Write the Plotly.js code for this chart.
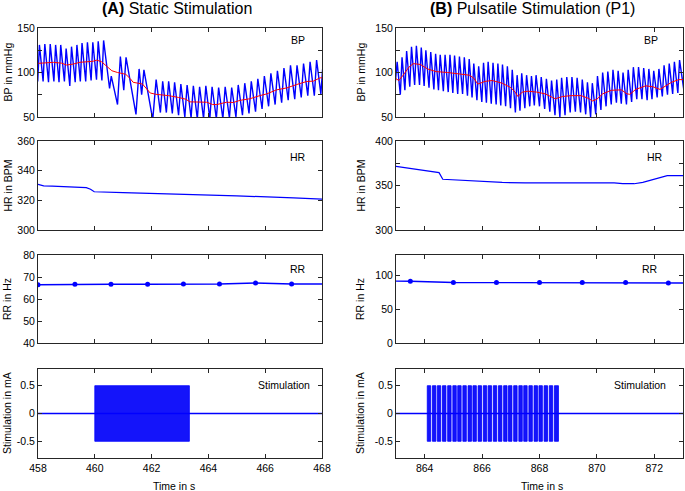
<!DOCTYPE html>
<html><head><meta charset="utf-8">
<script src="https://cdn.plot.ly/plotly-3.0.1.min.js"></script>
<style>html,body{margin:0;padding:0;background:#fff}#chart{width:685px;height:491px}</style>
</head><body><div id="chart"></div>
<script>
// ---------- (A) Static stimulation ----------
const bpA_t = [457.99,458.05, 458.18,458.24, 458.37,458.43, 458.56,458.62, 458.74,458.80, 458.93,458.99, 459.12,459.18, 459.31,459.37, 459.49,459.55, 459.68,459.74, 459.87,459.93, 460.06,460.12, 460.25,460.31, 460.52,460.58, 460.80,460.90, 461.02,461.10, 461.45,461.56, 461.65,461.73, 462.04,462.16, 462.31,462.39, 462.52,462.60, 462.73,462.81, 462.95,463.03, 463.17,463.25, 463.39,463.47, 463.61,463.69, 463.83,463.91, 464.05,464.13, 464.28,464.36, 464.51,464.59, 464.74,464.82, 464.97,465.05, 465.20,465.28, 465.43,465.51, 465.66,465.74, 465.89,465.97, 466.12,466.20, 466.35,466.43, 466.58,466.66, 466.81,466.89, 467.04,467.12, 467.27,467.35, 467.50,467.58, 467.73,467.81, 467.96,468.04];
const bpA_v = [90,131, 90,132, 89,132, 90,131, 89,131, 90,127, 85,129, 89,131, 90,133, 90,134, 91,134, 92,135, 91,136, 82,96, 64,118, 80,117, 53,104, 75,103, 47,92, 55,90, 55,90, 54,89, 52,87, 50,86, 49,85, 48,84, 48,85, 48,84, 48,83, 48,84, 49,83, 50,86, 52,88, 54,90, 56,93, 59,96, 62,99, 64,102, 66,105, 69,108, 70,108, 72,110, 74,112, 74,114, 76,112];
const meanA_t = [458.01, 458.31, 458.54, 458.83, 459.01, 459.24, 459.48, 459.71, 459.95, 460.07, 460.24, 460.42, 460.60, 460.80, 461.09, 461.25, 461.35, 461.68, 461.80, 461.95, 462.15, 462.60, 462.94, 463.20, 463.35, 463.70, 463.94, 464.15, 464.30, 464.64, 464.88, 465.11, 465.46, 465.82, 466.05, 466.40, 466.76, 467.11, 467.46, 467.70, 467.93, 468.00];
const meanA_v = [110.3, 111, 111.4, 110.5, 108.4, 109.5, 111.5, 112, 112.7, 113.9, 112, 107, 102, 100, 98, 93, 89, 87, 82, 77, 75.5, 74, 72, 70, 67, 66.6, 66.6, 64, 64, 66.6, 66.3, 68.7, 70.5, 74.1, 75.9, 80.5, 82.7, 86.5, 89.9, 90.3, 94, 94];
const hrA_t = [458.0, 458.2, 458.5, 459.0, 459.7, 459.85, 459.98, 461.0, 463.0, 465.0, 467.0, 468.0];
const hrA_v = [330.8, 329.8, 329.6, 329.2, 328.6, 327.5, 325.8, 325.2, 324.3, 323.0, 321.7, 320.8];
const rrA_t = [458.0, 459.3, 460.57, 461.86, 463.12, 464.39, 465.66, 466.93, 468.2];
const rrA_v = [66.5, 66.7, 66.7, 66.7, 66.8, 66.8, 67.3, 66.8, 66.8];
const stimA_on = [460.0];
const stimA_off = [463.33];
const stimA_base_t = [458, 468];

// ---------- (B) Pulsatile stimulation (P1) ----------
const bpB_t = [862.98,863.04, 863.15,863.21, 863.31,863.37, 863.48,863.54, 863.65,863.71, 863.82,863.88, 863.98,864.04, 864.15,864.21, 864.32,864.38, 864.48,864.54, 864.65,864.71, 864.82,864.88, 864.98,865.04, 865.15,865.21, 865.32,865.38, 865.49,865.55, 865.65,865.71, 865.82,865.88, 865.99,866.05, 866.15,866.21, 866.32,866.38, 866.49,866.55, 866.65,866.71, 866.82,866.88, 866.99,867.05, 867.16,867.22, 867.32,867.38, 867.49,867.55, 867.66,867.72, 867.82,867.88, 868.00,868.06, 868.18,868.24, 868.36,868.42, 868.54,868.60, 868.71,868.77, 868.89,868.95, 869.07,869.13, 869.25,869.31, 869.43,869.49, 869.61,869.67, 869.78,869.84, 869.96,870.02, 870.14,870.20, 870.32,870.38, 870.50,870.56, 870.68,870.74, 870.85,870.91, 871.03,871.09, 871.21,871.27, 871.39,871.45, 871.57,871.63, 871.75,871.81, 871.92,871.98, 872.10,872.16, 872.28,872.34, 872.46,872.52, 872.64,872.70, 872.82,872.88, 873.04];
const bpB_v = [90,112, 75,117, 80,124, 84,129, 86,130, 86,128, 85,125, 83,123, 81,121, 80,120, 79,120, 78,120, 77,119, 76,118, 76,117, 74,115, 72,110, 69,107, 67,111, 66,112, 65,111, 64,110, 63,109, 62,107, 60,103, 55,97, 57,99, 60,97, 62,96, 63,97, 62,95, 59,93, 56,91, 52,92, 50,94, 52,95, 55,95, 56,94, 55,92, 53,89, 50,88, 53,96, 58,100, 62,101, 64,103, 66,102, 65,100, 64,103, 67,106, 70,106, 70,105, 69,104, 70,102, 72,104, 73,108, 75,110, 76,112, 77,114, 78];
const meanB_t = [863.0, 863.1, 863.25, 863.45, 863.6, 863.85, 864.1, 864.4, 864.8, 865.2, 865.55, 865.7, 865.85, 866.1, 866.35, 866.7, 867.0, 867.15, 867.25, 867.4, 867.6, 867.9, 868.2, 868.45, 868.55, 868.8, 869.1, 869.45, 869.7, 869.85, 870.0, 870.2, 870.5, 870.85, 871.05, 871.15, 871.35, 871.7, 871.95, 872.2, 872.4, 872.6, 872.85, 873.0];
const meanB_v = [93, 91, 97, 106, 110, 109, 104, 101, 100, 98, 97, 94, 87, 90, 91, 88, 83, 78, 73, 78, 79, 78, 76, 72, 70.5, 73, 74, 74, 71, 68, 70, 76, 80, 80.5, 76, 75.5, 81, 85, 84, 81, 85, 89, 92, 92];
const hrB_t = [863.0, 864.5, 864.63, 865.2, 865.9, 866.7, 867.5, 870.6, 870.9, 871.3, 871.6, 872.1, 872.45, 873.0];
const hrB_v = [371.5, 364.5, 357.0, 355.8, 354.6, 353.4, 353.0, 353.0, 352.0, 352.0, 353.5, 357.5, 361.0, 361.0];
const rrB_t = [862.0, 863.5, 865.0, 866.5, 868.0, 869.49, 871.0, 872.49, 874.0];
const rrB_v = [91.8, 91.2, 89.3, 89.2, 89.2, 89.2, 89.3, 88.8, 88.6];
const stimB_on = [864.09, 864.27, 864.44, 864.62, 864.80, 864.98, 865.15, 865.33, 865.51, 865.68, 865.86, 866.04, 866.21, 866.39, 866.57, 866.75, 866.92, 867.10, 867.28, 867.45, 867.63, 867.81, 867.98, 868.16, 868.34, 868.52];
const stimB_off = [864.21, 864.39, 864.56, 864.74, 864.92, 865.10, 865.27, 865.45, 865.63, 865.80, 865.98, 866.16, 866.33, 866.51, 866.69, 866.87, 867.04, 867.22, 867.40, 867.57, 867.75, 867.93, 868.10, 868.28, 868.46, 868.66];
const stimB_base_t = [863, 873];
const stimAmp = 0.5;

// ---------- axis ticks ----------
const xTicksA = [458, 460, 462, 464, 466, 468];
const xTicksB = [864, 866, 868, 870, 872];
const bpTicks = [50, 75, 100, 125, 150], bpTickText = ['50', '', '100', '', '150'];
const hrTicksA = [300, 320, 340, 360];
const hrTicksB = [300, 325, 350, 375, 400], hrTickTextB = ['300', '', '350', '', '400'];
const rrTicksA = [40, 50, 60, 70, 80];
const rrTicksB = [0, 50, 100];
const stimTicks = [-0.5, 0, 0.5], stimTickText = ['-0.5', '0', '0.5'];
const panelNames = ['BP', 'HR', 'RR', 'Stimulation'];
const yTitles = ['BP in mmHg', 'HR in BPM', 'RR in Hz', 'Stimulation in mA'];

// ---------- helpers ----------
const BLUE = '#0000ff', RED = '#ff0000', FRAME = '#262626';
const W = 685, H = 491;
const FONT = 'Liberation Sans, Arial, Helvetica, sans-serif';
function ax(i, s) { return s + (i === 1 ? '' : i); }
function burstPolys(on, off, amp) {
  const xs = [], ys = [];
  for (let i = 0; i < on.length; i++) {
    xs.push(on[i], on[i], off[i], off[i], on[i], null);
    ys.push(-amp, amp, amp, -amp, -amp, null);
  }
  return {xs, ys};
}

const traces = [];
function line(i, x, y, color, width, extra) {
  traces.push(Object.assign({type: 'scatter', mode: 'lines', x, y, xaxis: ax(i, 'x'), yaxis: ax(i, 'y'),
    line: {color, width}, hoverinfo: 'skip'}, extra || {}));
}
// A
line(1, bpA_t, bpA_v, BLUE, 1.4);
line(1, meanA_t, meanA_v, RED, 1);
line(2, hrA_t, hrA_v, BLUE, 1.2);
line(3, rrA_t, rrA_v, BLUE, 1.4, {mode: 'lines+markers', marker: {color: BLUE, size: 5}});
const pA = burstPolys(stimA_on, stimA_off, stimAmp);
line(4, pA.xs, pA.ys, BLUE, 0.8, {fill: 'toself', fillcolor: 'rgb(20,20,250)'});
line(4, stimA_base_t, stimA_base_t.map(() => 0), BLUE, 1.4);
// B
line(5, bpB_t, bpB_v, BLUE, 1.4);
line(5, meanB_t, meanB_v, RED, 1);
line(6, hrB_t, hrB_v, BLUE, 1.2);
line(7, rrB_t, rrB_v, BLUE, 1.4, {mode: 'lines+markers', marker: {color: BLUE, size: 5}});
const pB = burstPolys(stimB_on, stimB_off, stimAmp);
line(8, pB.xs, pB.ys, BLUE, 0.8, {fill: 'toself', fillcolor: 'rgb(20,20,250)'});
line(8, stimB_base_t, stimB_base_t.map(() => 0), BLUE, 1.4);

// ---------- layout ----------
const colX = [[38, 322], [396, 683]];
const rowY = [[28, 117], [141, 230], [255, 343], [369, 458]];
const xRanges = [[458, 468], [863, 873]];
const xTicks = [xTicksA, xTicksB];
const yCfg = [
  [{r: [50, 150], v: bpTicks, t: bpTickText}, {r: [300, 360], v: hrTicksA}, {r: [40, 80], v: rrTicksA}, {r: [-0.8, 0.8], v: stimTicks, t: stimTickText}],
  [{r: [50, 150], v: bpTicks, t: bpTickText}, {r: [300, 400], v: hrTicksB, t: hrTickTextB}, {r: [0, 130], v: rrTicksB}, {r: [-0.8, 0.8], v: stimTicks, t: stimTickText}]
];
const layout = {
  width: W, height: H, margin: {l: 0, r: 0, t: 0, b: 0}, showlegend: false,
  paper_bgcolor: '#fff', plot_bgcolor: '#fff',
  font: {family: FONT, size: 10.5, color: '#000'},
  annotations: []
};
const common = {showline: true, linecolor: FRAME, linewidth: 1, mirror: 'ticks', ticks: 'inside', ticklen: 4,
  tickwidth: 1, tickcolor: FRAME, showgrid: false, zeroline: false, fixedrange: true,
  tickfont: {family: FONT, size: 10.5, color: '#000'}};
for (let c = 0; c < 2; c++) {
  for (let p = 0; p < 4; p++) {
    const i = c * 4 + p + 1;
    const yc = yCfg[c][p];
    layout[ax(i, 'xaxis')] = Object.assign({}, common, {
      domain: [colX[c][0] / W, colX[c][1] / W], anchor: ax(i, 'y'), range: xRanges[c],
      tickmode: 'array', tickvals: xTicks[c], ticktext: xTicks[c].map(String), showticklabels: p === 3
    });
    layout[ax(i, 'yaxis')] = Object.assign({}, common, {
      domain: [1 - rowY[p][1] / H, 1 - rowY[p][0] / H], anchor: ax(i, 'x'), range: yc.r,
      tickmode: 'array', tickvals: yc.v, ticktext: yc.t || yc.v.map(String)
    });
  }
}
function P(px, py) { return {x: px / W, y: 1 - py / H, xref: 'paper', yref: 'paper'}; }
function note(px, py, text, o) {
  layout.annotations.push(Object.assign(P(px, py), {text, showarrow: false, xanchor: 'center', yanchor: 'middle',
    font: {family: FONT, size: 10.5, color: '#000'}}, o || {}));
}
// titles
note(177, 9, '<b>(A)</b> Static Stimulation', {font: {family: FONT, size: 16, color: '#000'}});
note(532, 9, '<b>(B)</b> Pulsatile Stimulation (P1)', {font: {family: FONT, size: 16, color: '#000'}});
// y titles
const rowMid = [72.5, 185.5, 299, 413];
for (let p = 0; p < 4; p++) {
  note(7, rowMid[p], yTitles[p], {textangle: -90});
  note(360, rowMid[p], yTitles[p], {textangle: -90});
}
// x titles
note(174, 486, 'Time in s');
note(542, 486, 'Time in s');
// panel labels
const labA = [[307, 40], [308, 157], [308, 269], [312, 385]];
const labB = [[660, 40], [665, 157], [660, 269], [668, 385]];
for (let p = 0; p < 4; p++) {
  note(labA[p][0], labA[p][1], panelNames[p], {xanchor: 'right'});
  note(labB[p][0], labB[p][1], panelNames[p], {xanchor: 'right'});
}
Plotly.newPlot('chart', traces, layout, {staticPlot: true, displayModeBar: false});
</script></body></html>
